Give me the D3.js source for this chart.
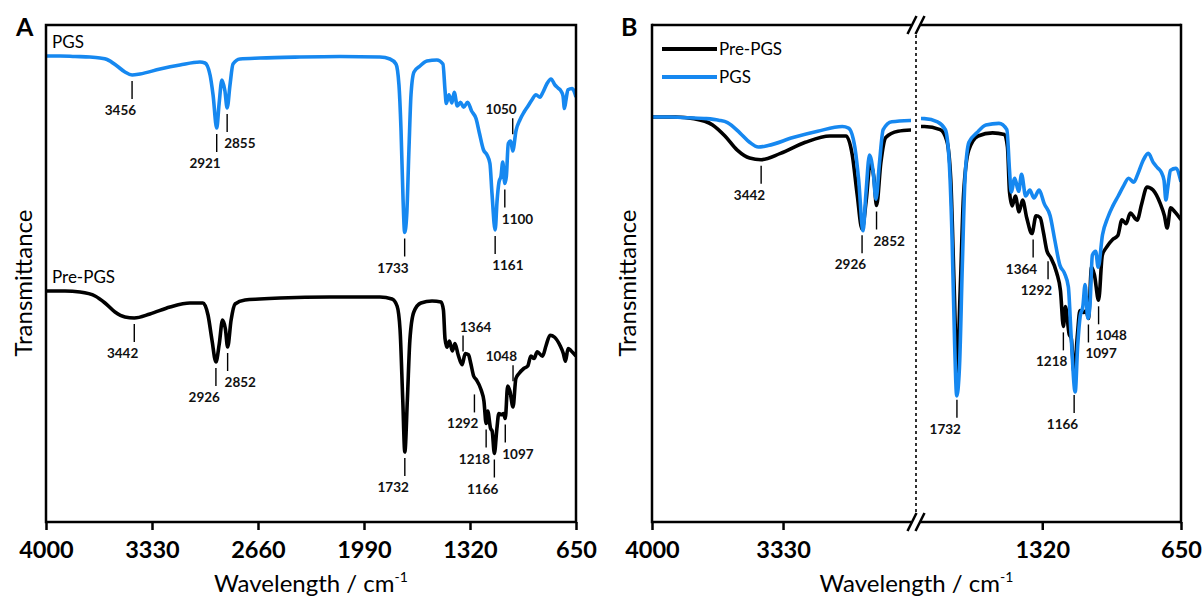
<!DOCTYPE html>
<html>
<head>
<meta charset="utf-8">
<script src="https://cdn.jsdelivr.net/npm/d3@7"></script>
<style>
  html, body { margin: 0; padding: 0; background: #fff; }
  svg { display: block; font-family: Lato, "Open Sans", sans-serif; }
</style>
</head>
<body>
<svg id="chart" width="1204" height="600"></svg>
<script>
// spectra: [wavenumber cm-1, transmittance (a.u.)]
const prePgsSpectrum = [
  [4000,100],[3880,100],[3785,99.6],[3690,98],[3627,95.2],[3564,91.6],[3501,89.6],[3442,89.2],
  [3343,90.8],[3216,93.6],[3090,95.2],[3008,95.2],[2976,90.4],[2951,80.4],[2926,71.6],[2905,78.8],
  [2884,88.4],[2866,84.8],[2852,77.6],[2830,88.4],[2805,94.8],[2742,96.4],[2650,96.8],[2521,97.2],
  [2205,97.6],[1889,97.6],[1813,96.8],[1781,94],[1762,84.4],[1745,56.4],[1732,35.6],[1716,56.4],
  [1700,80.4],[1675,91.6],[1630,95.2],[1560,96],[1503,95.6],[1488,92.4],[1478,81],[1465,77.5],
  [1450,80],[1432,76],[1415,79],[1395,74.5],[1370,70.5],[1350,75],[1330,74.5],[1315,71],
  [1297,66],[1280,64.5],[1250,60.5],[1232,56],[1218,47],[1208,52],[1190,45],[1180,44],
  [1166,35],[1150,45],[1138,51],[1120,50.5],[1108,51],[1097,49],[1082,62],[1068,60],
  [1048,53.6],[1030,65],[1010,67],[980,69],[955,70],[935,74],[915,73],[895,75.7],
  [862,73.9],[840,78],[814,82.3],[785,81.5],[751,78.2],[730,75],[717,71.9],[700,77],[680,76],[650,74]
]
const pgsSpectrum = [
  [4000,100],[3911,100],[3817,99.8],[3722,99.6],[3659,99.2],[3614,98.6],[3551,96],[3501,93.6],
  [3456,92.4],[3406,92.8],[3279,94.8],[3153,96.4],[3027,97.6],[2995,97.2],[2963,92.4],[2944,84.4],
  [2921,71.2],[2906,80.8],[2888,90.4],[2869,86],[2855,79.2],[2837,88.4],[2818,96.8],[2774,98.8],
  [2647,99.2],[2395,99.6],[2142,99.8],[1889,99.6],[1826,98.8],[1788,96.8],[1769,88.4],[1756,70.4],
  [1743,42.4],[1733,29.4],[1720,36.4],[1706,62.4],[1693,84.4],[1674,93.6],[1636,96],[1592,98],
  [1529,98.4],[1491,96.8],[1478,86.4],[1470,81],[1453,84.5],[1434,81.2],[1420,85.5],[1400,80],
  [1380,81.5],[1360,79.5],[1335,81.5],[1310,78],[1282,75],[1260,69],[1235,62.5],[1213,60.5],
  [1194,57],[1181,45],[1161,30.4],[1149,42],[1137,49.5],[1124,52],[1113,57.6],[1100,49],
  [1090,52],[1078,65],[1062,66],[1050,62],[1029,70.2],[1004,74.5],[979,77.5],[953,80],
  [928,82.5],[903,84.5],[878,83.5],[859,85.5],[833,89],[808,90.8],[783,88.4],[764,87.2],
  [745,86],[732,84],[723,79],[713,82.5],[701,86.5],[675,87],[650,83.6]
]

// tick labels
const ticksA = [4000, 3330, 2660, 1990, 1320, 650]
const ticksBLeft = [4000, 3330]
const ticksBRight = [1320, 650]

// labelled peaks
const peaksAPgs = [3456, 2921, 2855, 1733, 1161, 1100, 1050]
const peaksAPre = [3442, 2926, 2852, 1732, 1364, 1292, 1218, 1166, 1097, 1048]
const peaksB = [3442, 2926, 2852, 1732, 1364, 1292, 1218, 1166, 1097, 1048]

const seriesNames = ['Pre-PGS', 'PGS']
const colors = { 'Pre-PGS': '#000000', 'PGS': '#1688f0' }

// label placement: side l = text left of the tick, r = right; up = label above curve
const placeA = {
  PGS: { 3456: 'l', 2921: 'l', 2855: 'r', 1733: 'l', 1161: 'r', 1100: 'r', 1050: 'l up' },
  Pre: { 3442: 'l', 2926: 'l', 2852: 'r', 1732: 'l', 1364: 'r up', 1292: 'l', 1218: 'l', 1166: 'l', 1097: 'r', 1048: 'l up' }
}
const placeB = { 3442: 'l', 2926: 'l', 2852: 'r', 1732: 'l', 1364: 'l', 1292: 'l', 1218: 'l', 1166: 'l', 1097: 'r', 1048: 'r' }

function draw() {
  const svg = d3.select('#chart')
  const top = 25, bottom = 522

  // value of a spectrum at a wavenumber (linear interpolation)
  function valueAt(spec, wn) {
    for (let i = 0; i < spec.length - 1; i++) {
      const a = spec[i], b = spec[i + 1]
      if (wn <= a[0] && wn >= b[0]) {
        const t = (a[0] - wn) / (a[0] - b[0])
        return a[1] + t * (b[1] - a[1])
      }
    }
    return spec[spec.length - 1][1]
  }

  // ---------- panel A ----------
  const xA = d3.scaleLinear().domain([4000, 650]).range([46, 576])
  const yA = d3.scaleLinear().domain([7.6, 206.4]).range([bottom, top])
  const offsetA = { 'Pre-PGS': 0, 'PGS': 94 }

  const gA = svg.append('g')
  gA.append('clipPath').attr('id', 'clipA')
    .append('rect').attr('x', 46).attr('y', top).attr('width', 530).attr('height', bottom - top)

  const lineA = name => d3.line()
    .x(d => xA(d[0]))
    .y(d => yA(d[1] + offsetA[name]))
    .curve(d3.curveMonotoneX)

  gA.append('path').datum(pgsSpectrum)
    .attr('clip-path', 'url(#clipA)')
    .attr('d', lineA('PGS')).attr('fill', 'none')
    .attr('stroke', colors.PGS).attr('stroke-width', 3.6).attr('stroke-linejoin', 'round')
  gA.append('path').datum(prePgsSpectrum)
    .attr('clip-path', 'url(#clipA)')
    .attr('d', lineA('Pre-PGS')).attr('fill', 'none')
    .attr('stroke', colors['Pre-PGS']).attr('stroke-width', 3.6).attr('stroke-linejoin', 'round')

  // frame
  gA.append('rect').attr('x', 46).attr('y', top).attr('width', 530).attr('height', bottom - top)
    .attr('fill', 'none').attr('stroke', '#000').attr('stroke-width', 2.5)

  const axA = gA.append('g').attr('transform', `translate(0,${bottom})`)
    .call(d3.axisBottom(xA).tickValues(ticksA).tickSize(8).tickPadding(11).tickFormat(d3.format('d')))
  styleAxis(axA)

  gA.append('text').attr('x', 52).attr('y', 48).attr('font-size', 17).text('PGS')
  gA.append('text').attr('x', 52).attr('y', 283).attr('font-size', 17).text('Pre-PGS')

  // peak annotations, panel A
  const yPx = (spec, name) => wn => yA(valueAt(spec, wn) + offsetA[name])
  addPeaks(gA, peaksAPgs, placeA.PGS, xA, [yPx(pgsSpectrum, 'PGS')], { 1100: 0 })
  addPeaks(gA, peaksAPre, placeA.Pre, xA, [yPx(prePgsSpectrum, 'Pre-PGS')], { 1292: 10 })

  axisTitles(gA, 311, 24)
  svg.append('text').attr('x', 16).attr('y', 36).attr('font-size', 25).attr('font-weight', 'bold').text('A')

  // ---------- panel B (broken x axis) ----------
  const breakX = 916
  const xBL = d3.scaleLinear().domain([4000, 2640]).range([652, 918])
  const xBR = d3.scaleLinear().domain([1920, 650]).range([918, 1181])
  const xB = wn => wn >= 2300 ? xBL(wn) : xBR(wn)
  const yB = d3.scaleLinear().domain([-2.53, 123.3]).range([bottom, top])

  const gB = svg.append('g')
  gB.append('clipPath').attr('id', 'clipBL')
    .append('rect').attr('x', 652).attr('y', top).attr('width', 911 - 652).attr('height', bottom - top)
  gB.append('clipPath').attr('id', 'clipBR')
    .append('rect').attr('x', 921).attr('y', top).attr('width', 1181 - 921).attr('height', bottom - top)

  const specs = { 'Pre-PGS': prePgsSpectrum, 'PGS': pgsSpectrum }
  seriesNames.forEach(name => {
    ;[[xBL, 'clipBL'], [xBR, 'clipBR']].forEach(([xs, clip]) => {
      gB.append('path').datum(specs[name])
        .attr('clip-path', `url(#${clip})`)
        .attr('d', d3.line().x(d => xs(d[0])).y(d => yB(d[1])).curve(d3.curveMonotoneX))
        .attr('fill', 'none').attr('stroke', colors[name])
        .attr('stroke-width', 3.6).attr('stroke-linejoin', 'round')
    })
  })

  // frame with breaks
  const frame = gB.append('g').attr('stroke', '#000').attr('stroke-width', 2.5).attr('fill', 'none')
  frame.append('line').attr('x1', 652).attr('x2', 652).attr('y1', top - 1.2).attr('y2', bottom + 1.2)
  frame.append('line').attr('x1', 1181).attr('x2', 1181).attr('y1', top - 1.2).attr('y2', bottom + 1.2)
  ;[top, bottom].forEach(y => {
    frame.append('line').attr('x1', 652).attr('x2', breakX - 5).attr('y1', y).attr('y2', y)
    frame.append('line').attr('x1', breakX + 4).attr('x2', 1181).attr('y1', y).attr('y2', y)
    ;[-4, 4].forEach(dx => {
      frame.append('line')
        .attr('x1', breakX + dx - 4.5).attr('y1', y + 9)
        .attr('x2', breakX + dx + 4.5).attr('y2', y - 9)
    })
  })
  gB.append('line').attr('x1', breakX).attr('x2', breakX).attr('y1', top + 10).attr('y2', bottom - 10)
    .attr('stroke', '#000').attr('stroke-width', 1.6).attr('stroke-dasharray', '3,3')

  const axBL = gB.append('g').attr('transform', `translate(0,${bottom})`)
    .call(d3.axisBottom(xBL).tickValues(ticksBLeft).tickSize(8).tickPadding(11).tickFormat(d3.format('d')))
  const axBR = gB.append('g').attr('transform', `translate(0,${bottom})`)
    .call(d3.axisBottom(xBR).tickValues(ticksBRight).tickSize(8).tickPadding(11).tickFormat(d3.format('d')))
  styleAxis(axBL)
  styleAxis(axBR)

  // legend
  const legend = gB.append('g')
  seriesNames.forEach((name, i) => {
    const y = 49 + i * 28
    legend.append('line').attr('x1', 662).attr('x2', 717).attr('y1', y).attr('y2', y)
      .attr('stroke', colors[name]).attr('stroke-width', 4)
    legend.append('text').attr('x', 719).attr('y', y + 6).attr('font-size', 17).text(name)
  })

  addPeaks(gB, peaksB, placeB, xB, [wn => yB(valueAt(prePgsSpectrum, wn)), wn => yB(valueAt(pgsSpectrum, wn))], {})

  axisTitles(gB, (652 + 1181) / 2, 628)
  svg.append('text').attr('x', 621).attr('y', 36).attr('font-size', 25).attr('font-weight', 'bold').text('B')

  function styleAxis(ax) {
    ax.select('.domain').remove()
    ax.selectAll('.tick line').attr('stroke', '#000').attr('stroke-width', 2.5)
    ax.selectAll('.tick text')
      .attr('font-family', 'Lato, sans-serif')
      .attr('font-size', 23.5).attr('font-weight', 'bold').attr('fill', '#000')
  }

  function axisTitles(g, cx, yx) {
    const t = g.append('text').attr('x', cx).attr('y', 592).attr('text-anchor', 'middle')
      .attr('font-size', 24)
    t.append('tspan').text('Wavelength / cm')
    t.append('tspan').attr('dy', -10).attr('font-size', 14).text('-1')
    g.append('text')
      .attr('transform', `translate(${yx + 8},${bottom / 2 + 22}) rotate(-90)`)
      .attr('text-anchor', 'middle').attr('font-size', 24).text('Transmittance')
  }

  // short tick under (or over) a band with its wavenumber
  function addPeaks(g, peaks, place, xs, yFns, extra) {
    peaks.forEach(wn => {
      const p = place[wn]
      const x = xs(wn)
      const up = p.includes('up')
      const side = p[0]
      let ref
      if (up) {
        ref = d3.min(d3.range(wn - 15, wn + 16, 3), w => d3.min(yFns, f => f(w)))
      } else {
        ref = d3.max(d3.range(wn - 6, wn + 7, 2), w => d3.max(yFns, f => f(w)))
      }
      let y1, y2, ty
      if (up) {
        y2 = ref - 2; y1 = y2 - 16; ty = y1 - 4
      } else {
        y1 = ref + 6 + (extra[wn] || 0); y2 = y1 + 18; ty = y2 + 16
      }
      g.append('line').attr('x1', x).attr('x2', x).attr('y1', y1).attr('y2', y2)
        .attr('stroke', '#000').attr('stroke-width', 1.4)
      g.append('text')
        .attr('x', side === 'l' ? x + 4 : x - 3)
        .attr('y', ty)
        .attr('text-anchor', side === 'l' ? 'end' : 'start')
        .attr('font-size', 13.5).attr('font-weight', 'bold').attr('fill', '#111')
        .text(wn)
    })
  }
}

window.onload = draw
</script>
</body>
</html>
